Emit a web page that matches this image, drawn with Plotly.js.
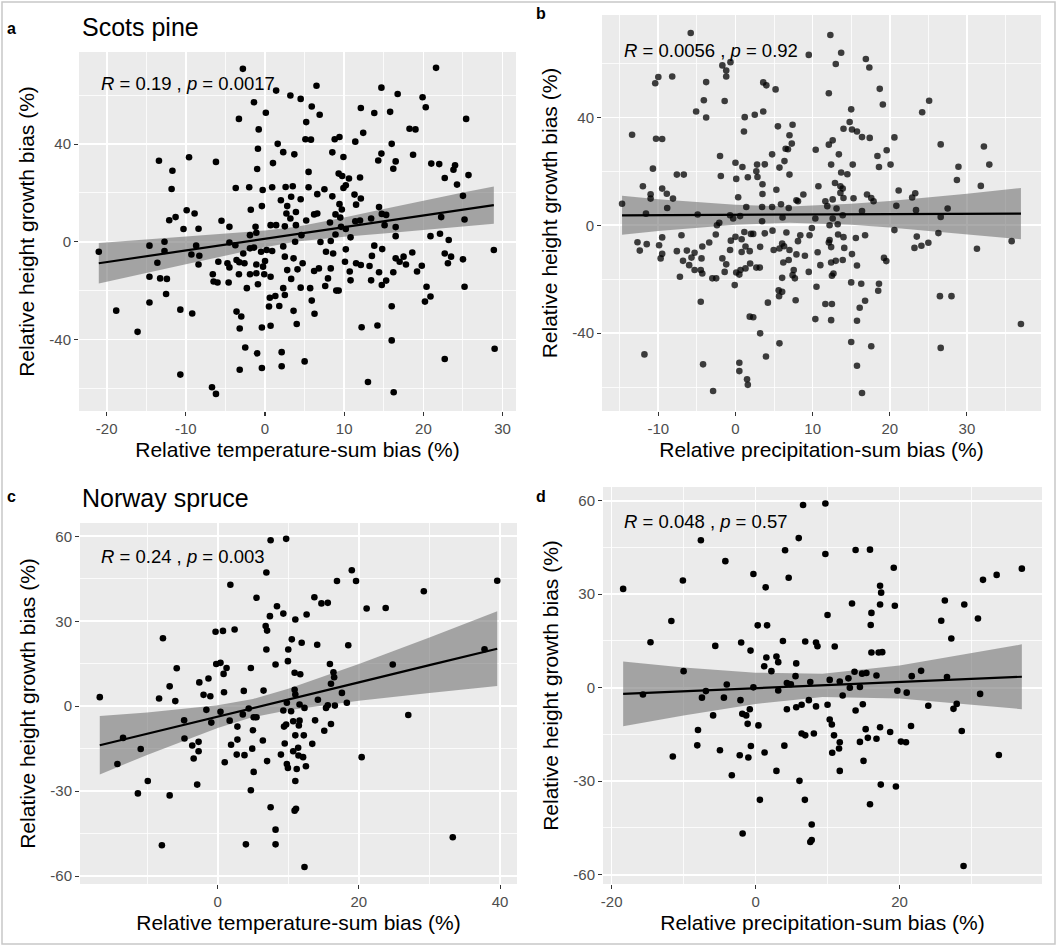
<!DOCTYPE html>
<html>
<head>
<meta charset="utf-8">
<script src="https://cdn.plot.ly/plotly-3.0.1.min.js"></script>
<style>
html,body{margin:0;padding:0;background:#fff;}
#chart{width:1057px;height:946px;}
</style>
</head>
<body>
<div id="chart"></div>
<script>
// ---------------- DATA ----------------
// (a) Scots pine: temperature-sum bias vs height growth bias
const pineTempX = [-2.8,-21.0,1.4,3.2,-1.4,0.1,-3.3,-0.8,1.6,2.3,3.7,-0.9,-13.4,-9.6,-6.2,-11.7,1.0,-1.0,-11.8,-3.7,-2.0,-0.3,0.9,2.6,3.5,3.3,2.0,-0.4,-1.8,2.8,3.9,2.7,3.2,-9.9,-8.9,-12.1,-11.3,-5.5,-10.3,-8.4,-4.5,-1.2,0.7,1.4,2.5,3.9,-1.9,-1.1,-14.6,-12.7,-12.7,-8.7,-9.3,-8.3,-4.5,-3.75,-2.75,-3.6,-1.9,-1.4,-0.5,0.2,0.9,2.3,3.8,-13.6,-8.4,-5.9,-4.75,-4.5,-3.25,-2.6,-1.1,-0.25,0.0,2.5,3.6,-14.6,-13.25,-12.4,-6.6,-6.5,-6.0,-4.6,-3.3,-1.9,-1.1,-0.9,-0.1,0.7,2.8,3.3,4.1,-2.3,2.3,-12.5,-14.6,-18.8,-10.7,-9.2,-3.6,-3.0,0.5,0.6,1.3,1.8,2.5,3.6,-16.1,-3.2,-0.4,0.7,4.0,-2.5,-1.0,2.1,-3.2,-0.4,2.1,-10.7,-6.7,-6.2,
  21.6,6.5,14.7,16.75,4.5,19.9,20.3,5.9,6.9,12.1,13.8,15.8,25.4,5.2,18.25,19.0,12.4,5.1,5.8,8.8,9.4,11.4,16.0,8.5,9.9,14.7,14.3,16.5,16.2,18.7,21.0,22.0,24.0,23.8,22.7,25.7,24.25,5.5,9.3,9.75,10.6,12.0,5.5,7.5,9.9,10.2,6.6,8.5,11.3,12.1,4.5,11.5,9.4,9.7,14.4,14.75,15.3,25.0,6.2,6.6,8.9,9.5,5.2,8.2,11.4,12.0,13.4,15.1,16.5,22.25,25.2,9.6,10.2,8.9,10.8,4.6,16.5,20.9,22.1,23.2,7.0,8.3,13.8,14.8,10.2,7.7,8.6,28.9,13.5,16.5,17.5,17.0,17.8,18.6,19.8,19.2,22.7,23.5,23.1,25.0,4.75,10.1,11.5,12.1,13.2,6.2,6.8,8.3,10.7,14.4,16.2,7.95,7.6,10.8,13.4,14.75,15.3,4.5,5.7,9.0,9.3,20.4,25.2,5.9,20.9,20.2,16.0,6.25,12.2,14.2,16.0,5.0,22.7,29.0,13.0,16.25];
const pineTempY = [70.8,-4.1,61.9,59.9,57.1,52.8,50.3,46.0,40.1,36.7,35.8,38.1,33.2,34.6,32.7,29.1,32.2,29.8,21.6,22.0,22.3,21.2,22.3,22.4,22.7,18.4,17.0,14.6,13.1,14.6,12.2,11.6,9.5,12.9,11.6,8.8,10.1,8.6,5.2,5.3,6.1,6.1,6.8,6.8,6.3,6.8,2.7,3.7,-1.6,0.0,-3.8,-1.6,-5.2,-5.7,-0.3,-1.4,-4.8,-7.5,-2.7,-2.4,-4.1,-3.4,-3.8,-1.9,0.0,-8.6,-9.3,-8.2,-8.8,-10.5,-8.4,-8.8,-9.3,-10.2,-7.9,-6.1,-6.8,-14.3,-15.0,-15.2,-13.3,-16.3,-16.7,-16.7,-13.3,-13.3,-12.9,-17.4,-13.3,-14.3,-11.6,-15.2,-11.3,-19.0,-19.0,-21.4,-24.9,-28.2,-27.8,-29.4,-28.6,-30.6,-26.5,-22.9,-22.2,-26.3,-21.8,-28.3,-36.9,-35.5,-35.1,-34.4,-33.7,-43.3,-45.7,-45.2,-52.4,-51.7,-51.0,-54.4,-59.6,-62.3,
  71.2,63.9,63.1,60.5,58.5,59.2,55.1,55.4,52.0,54.8,52.7,53.2,50.3,49.0,46.3,46.0,44.6,42.0,41.8,42.0,42.9,41.0,40.1,36.6,34.7,36.1,33.3,32.9,29.9,35.6,32.0,31.8,31.3,29.5,26.1,27.3,23.4,28.6,27.9,26.9,25.9,26.3,22.3,21.5,22.0,23.1,19.5,18.6,19.3,17.7,17.4,15.2,15.4,13.2,14.2,11.4,11.0,18.8,11.2,11.6,11.2,9.9,8.7,7.9,8.4,8.7,9.5,6.8,6.0,10.1,9.1,6.1,5.2,3.0,1.8,2.7,2.3,2.3,3.3,0.7,-0.1,0.3,-1.6,-3.0,-3.1,-4.1,-4.8,-3.4,-5.8,-6.8,-6.1,-8.2,-9.3,-4.4,-9.8,-12.2,-4.8,-6.1,-8.8,-7.2,-8.8,-8.2,-8.8,-9.5,-9.9,-12.0,-10.9,-10.9,-12.2,-12.5,-12.5,-15.0,-18.1,-15.8,-15.8,-17.7,-15.9,-18.8,-19.0,-20.0,-20.0,-18.4,-18.4,-24.1,-22.4,-24.5,-26.4,-29.5,-35.0,-34.3,-40.4,-49.0,-48.0,-43.8,-57.4,-61.6];
const pineTempFitX = [-21,-15,-10,-5,0,4,10,15,20,25,28.9];
const pineTempFit  = [-8.8,-5.9,-3.6,-1.2,1.2,3.1,6.0,8.4,10.8,13.2,15.0];
const pineTempLo   = [-17.1,-12.8,-9.2,-5.6,-2.2,0.1,2.1,3.4,4.7,6.2,7.4];
const pineTempHi   = [-0.5,1.0,2.0,3.2,4.6,6.1,9.9,13.4,16.9,20.2,22.6];

// (b) Scots pine: precipitation-sum bias vs height growth bias
const pinePrecX = [-5.8,9.5,-1.7,-1.2,-0.65,-1.2,-10.0,-10.4,-8.2,-3.8,3.6,4.0,5.2,-4.1,-1.4,-5.1,-3.8,1.2,2.5,3.6,1.1,5.5,7.4,-13.4,-10.3,-9.5,7.0,7.3,6.8,6.5,-2.0,4.75,6.35,-10.7,0.0,0.9,2.8,3.8,2.7,5.7,-7.6,-6.7,-1.9,0.1,1.6,2.85,7.0,-12.0,-9.5,-8.9,-11.0,-11.0,3.5,5.3,-8.1,0.35,3.5,8.8,7.9,8.1,-14.7,-8.85,1.4,3.45,4.75,5.9,6.9,-11.6,-4.9,-0.7,0.6,-0.3,6.1,3.45,-2.1,-2.4,9.9,9.6,-7.0,-9.5,-12.7,-12.4,-11.5,-9.9,-9.5,-9.7,-7.6,-6.3,-5.3,-5.7,-6.8,-6.0,-5.3,-7.2,-4.3,-3.4,-2.55,-0.6,0.0,0.8,1.15,2.0,2.3,3.8,4.8,6.6,8.1,8.4,-4.4,-4.5,-4.3,-1.7,-1.2,-0.7,0.8,1.3,1.85,3.2,4.95,5.7,6.05,6.3,7.0,6.2,6.9,7.9,9.0,-3.0,-2.5,-1.4,0.1,0.65,1.3,1.9,2.7,3.15,0.5,-0.1,6.05,7.55,7.4,7.7,9.5,5.6,6.05,5.65,7.8,-4.5,4.2,1.85,2.3,3.2,5.7,-11.8,3.95,-4.2,0.5,0.5,1.5,1.6,-2.9,
  12.3,13.7,13.0,16.9,17.35,12.1,18.7,19.1,25.1,24.2,15.0,14.8,14.0,15.1,15.75,16.4,17.4,20.6,12.6,12.1,10.4,13.4,18.4,19.6,26.6,32.2,12.4,15.2,18.6,20.1,28.9,32.9,13.7,14.5,28.7,31.8,10.75,12.9,13.6,13.9,13.6,14.0,15.3,11.65,12.6,11.9,13.1,17.05,17.6,17.9,21.15,20.85,22.9,23.3,23.4,27.5,16.4,13.9,12.6,10.35,12.2,13.25,26.6,20.6,13.3,14.0,15.6,16.8,23.5,26.3,12.2,12.1,12.4,14.1,23.2,24.1,25.0,31.3,35.8,10.65,15.1,11.0,12.4,13.0,13.9,15.75,19.25,19.55,12.7,12.5,10.5,15.0,16.3,18.6,18.5,16.8,16.1,11.65,12.5,10.35,12.4,15.75,26.5,28.0,37.0,15.0,17.6,26.6,15.75,16.4];
const pinePrecY = [71.3,63.2,59.3,57.4,60.5,55.2,55.0,52.7,55.2,53.1,53.0,51.9,50.4,46.4,46.1,42.2,40.0,40.1,41.0,42.2,34.8,36.7,37.3,33.6,32.1,32.0,33.4,30.3,28.2,28.4,25.7,26.3,23.8,21.0,23.2,21.6,22.5,22.6,20.0,21.4,18.8,18.8,18.3,17.2,17.8,17.9,18.8,14.5,13.6,11.7,11.5,9.9,15.2,13.2,9.9,10.4,11.6,11.4,9.3,8.9,8.0,6.4,6.8,6.8,6.8,7.8,6.4,4.3,4.0,3.7,3.4,2.5,2.9,1.5,0.9,0.0,-1.0,-3.7,-3.7,-4.5,-6.3,-9.4,-7.0,-7.4,-10.6,-12.3,-9.6,-9.4,-10.2,-12.0,-13.2,-14.8,-16.6,-19.1,-7.9,-6.4,-3.4,-5.7,-4.3,-5.2,-2.5,-3.2,-3.2,-3.0,-2.0,-2.7,-5.9,-3.7,-12.3,-16.6,-17.9,-12.3,-14.5,-9.2,-9.9,-7.9,-9.6,-8.0,-9.2,-8.6,-6.8,-7.8,-9.2,-13.8,-12.9,-10.8,-11.3,-19.7,-19.7,-17.3,-17.5,-16.6,-16.0,-14.2,-15.7,-15.7,-18.3,-22.2,-19.5,-16.6,-18.5,-19.7,-17.3,-24.1,-24.7,-26.3,-27.8,-28.4,-28.7,-33.9,-34.1,-40.1,-43.8,-47.9,-48.7,-51.6,-51.0,-54.1,-57.1,-59.2,-61.5,
  70.6,64.0,59.8,61.7,58.5,49.0,50.6,44.8,46.2,41.9,43.0,38.3,35.8,35.5,34.8,32.7,32.4,32.6,31.5,29.9,28.0,26.3,25.7,27.8,30.0,29.2,22.5,22.5,21.6,22.5,21.7,22.5,19.6,18.9,16.8,14.6,14.5,15.7,14.5,13.6,12.0,10.1,10.0,8.9,9.6,7.1,6.2,11.4,10.1,8.9,12.9,7.2,10.3,11.9,5.6,6.2,5.3,3.7,2.5,2.5,0.0,0.4,3.1,-1.8,-3.4,-4.4,-4.7,-3.7,-4.2,-2.9,-5.5,-6.4,-8.1,-8.4,-8.4,-7.6,-6.5,-8.7,-5.9,-10.0,-10.7,-14.8,-13.8,-13.2,-12.9,-14.9,-12.1,-13.3,-17.9,-18.7,-22.8,-21.2,-21.7,-21.7,-24.3,-28.0,-30.6,-29.2,-29.2,-34.8,-35.2,-35.4,-26.3,-26.3,-36.6,-43.3,-44.9,-45.5,-52.1,-62.2];
const pinePrecFitX = [-14.7,-10,0,7,15,20,30,37];
const pinePrecFit  = [3.7,3.75,3.9,3.95,4.05,4.1,4.2,4.3];
const pinePrecLo   = [-3.55,-2.15,0.2,0.95,0.15,-0.8,-3.3,-5.2];
const pinePrecHi   = [10.95,9.65,7.6,6.95,7.95,9.0,11.7,13.8];

// (c) Norway spruce: temperature-sum bias vs height growth bias
const spruceTempX = [7.5,9.7,6.9,1.8,5.5,8.4,9.3,7.4,11.0,-0.3,0.75,2.4,6.8,7.0,-7.75,10.5,6.9,10.0,8.2,9.95,-0.2,0.4,1.26,0.84,4.7,-5.8,10.9,-2.6,-1.3,-6.8,-2.0,-1.04,0.9,3.7,6.5,10.9,11.0,-16.7,-8.3,-6.0,9.8,-1.6,0.4,4.4,3.56,5.1,5.5,9.3,10.4,-4.75,-0.9,1.7,2.8,10.7,9.4,9.7,11.5,-13.4,-4.7,2.8,5.0,6.4,9.5,11.0,-10.9,-3.6,-2.7,-2.7,1.9,2.7,3.8,4.9,8.96,10.7,11.4,11.45,-3.4,-14.2,1.0,7.0,9.8,9.95,11.2,5.1,-9.9,-2.9,11.0,-11.3,-6.8,4.7,7.5,10.9,11.1,8.2,-7.9,4.0,8.2,
  19.0,16.9,19.6,39.6,29.2,13.7,14.7,15.6,21.1,23.8,12.6,11.9,14.1,18.5,15.9,24.8,16.4,16.5,11.7,16.05,37.8,17.6,14.2,18.3,11.6,12.3,15.35,15.6,16.6,27.0,11.6,13.8,16.05,15.1,12.2,13.4,12.1,12.5,20.4,33.3,12.3];
const spruceTempY = [58.6,59.1,47.2,42.9,38.3,35.3,32.7,31.8,30.6,26.3,26.6,27.1,28.3,26.7,24.0,23.6,20.0,20.0,14.7,15.9,14.9,15.3,13.5,11.4,13.5,13.4,11.8,8.4,9.8,7.0,4.0,3.5,4.9,5.4,5.5,5.8,4.1,3.2,2.7,1.8,1.2,-1.3,-2.0,-0.8,-2.9,-3.9,-3.9,-1.5,-1.8,-5.0,-5.8,-5.1,-7.2,-5.3,-7.2,-6.5,-6.8,-11.2,-11.4,-11.8,-8.5,-12.1,-13.2,-10.3,-15.1,-13.9,-12.6,-15.9,-13.6,-17.1,-17.3,-15.0,-17.1,-15.9,-14.7,-17.4,-18.5,-20.4,-19.8,-19.4,-20.4,-21.8,-22.2,-23.2,-26.4,-27.7,-26.4,-30.8,-31.5,-29.7,-35.7,-36.9,-36.2,-43.6,-49.1,-48.8,-48.8,
  48.0,44.2,44.2,44.3,40.6,38.5,36.3,36.5,34.5,34.7,32.4,22.4,21.7,21.5,14.9,14.7,12.0,10.2,11.3,7.9,20.1,4.7,2.3,1.2,0.6,-0.6,-0.6,0.3,0.2,-3.1,-5.1,-5.0,-6.3,-8.7,-10.3,-13.3,-18.0,-21.2,-18.0,-46.3,-56.8];
const spruceTempFitX = [-16.7,-10,0,5,10,20,30,39.6];
const spruceTempFit  = [-13.8,-9.7,-3.7,-0.65,2.4,8.4,14.5,20.3];
const spruceTempLo   = [-24.1,-17.2,-7.7,-3.85,-1.4,1.9,4.7,7.1];
const spruceTempHi   = [-3.5,-2.2,0.3,2.55,6.2,14.9,24.3,33.5];

// (d) Norway spruce: precipitation-sum bias vs height growth bias
const sprucePrecX = [6.6,6.0,-7.6,4.1,-4.2,-0.3,-10.1,4.6,-18.4,1.4,-11.7,0.3,1.6,-14.6,-5.6,-2.0,-0.7,3.8,6.9,1.5,2.9,3.15,5.65,1.2,2.2,-10.0,5.55,4.35,4.9,7.6,-15.65,-6.9,-7.45,-4.0,-0.3,3.15,-4.4,-2.1,7.4,-0.8,-1.85,-1.3,4.35,5.65,6.4,-5.9,-1.1,0.4,-8.0,6.4,6.9,8.1,-8.1,-0.65,4.0,-4.95,-2.2,-1.0,1.25,-11.5,-3.3,2.9,6.1,0.6,6.85,7.8,-1.8,7.8,7.6,
  9.7,9.7,13.9,15.9,19.2,17.3,17.45,13.4,17.3,19.35,10.0,16.1,16.0,26.3,29.0,25.8,30.9,27.2,31.6,33.5,37.0,8.4,8.6,11.0,16.1,17.1,17.6,13.75,14.8,15.4,16.8,12.9,11.7,10.3,13.1,14.5,12.1,19.7,21.0,21.7,23.0,26.6,31.2,10.0,8.4,13.9,14.9,24.0,27.5,27.95,10.3,10.6,10.9,11.7,11.6,10.65,14.5,15.3,15.6,16.8,17.3,18.7,20.2,20.9,21.6,28.65,15.0,11.7,17.4,19.5,15.9,33.8,28.9];
const sprucePrecY = [58.6,48.0,47.3,44.1,40.6,36.5,34.4,35.3,31.7,32.2,21.4,20.0,20.0,14.6,13.4,14.5,11.9,15.0,14.8,9.7,10.0,8.2,7.8,6.9,5.3,5.3,3.7,1.5,1.1,1.8,-2.2,-1.1,-3.2,1.0,0.1,-0.9,-3.2,-4.0,-4.0,-6.9,-8.4,-8.9,-6.9,-6.3,-5.5,-8.9,-11.6,-12.1,-13.6,-14.7,-15.3,-14.7,-18.5,-18.7,-18.6,-20.1,-21.7,-22.4,-20.8,-22.1,-28.1,-26.7,-29.9,-36.0,-36.0,-43.9,-46.8,-48.9,-49.5,
  59.1,42.9,44.2,44.3,38.5,32.7,30.5,27.0,26.7,26.3,23.3,24.0,20.1,28.0,26.7,21.5,22.2,15.8,34.6,36.2,38.2,14.5,13.3,13.2,11.3,11.3,11.4,5.1,4.5,4.7,3.9,3.0,2.0,2.5,0.0,0.2,-2.5,-1.0,-1.6,3.7,5.4,3.4,-2.0,-5.5,-6.0,-7.3,-5.3,-5.8,-6.8,-5.2,-10.2,-11.8,-15.3,-17.5,-19.5,-20.9,-17.4,-13.3,-16.1,-16.4,-12.7,-14.2,-17.3,-17.5,-12.3,-13.9,-23.5,-26.7,-31.1,-31.7,-37.4,-21.6,-57.2];
const sprucePrecFitX = [-18.4,-10,0,9.3,20,30,37];
const sprucePrecFit  = [-2.0,-1.2,-0.2,0.75,1.8,2.8,3.5];
const sprucePrecLo   = [-12.4,-8.9,-5.2,-3.0,-3.5,-5.4,-6.9];
const sprucePrecHi   = [8.4,6.5,4.8,4.5,7.1,11.0,13.9];

// Tick values and labels (ggplot-style hyphen minus)
const pineTempXTicks  = [-20,-10,0,10,20,30];
const pineTempXLabels = ['-20','-10','0','10','20','30'];
const pineTempXMinor  = [-15,-5,5,15,25];
const pinePrecXTicks  = [-10,0,10,20,30];
const pinePrecXLabels = ['-10','0','10','20','30'];
const pinePrecXMinor  = [-15,-5,5,15,25,35];
const pineYTicks      = [-40,0,40];
const pineYLabels     = ['-40','0','40'];
const pineYMinor      = [-60,-20,20,60];
const spruceXTicks    = [-20,0,20,40];
const spruceXLabels   = ['-20','0','20','40'];
const spruceXMinor    = [-10,10,30];
const spruceYTicks    = [-60,-30,0,30,60];
const spruceYLabels   = ['-60','-30','0','30','60'];
const spruceYMinor    = [-45,-15,15,45];

// Text
const panelTags   = ['a','b','c','d'];
const panelTitles = ['Scots pine','','Norway spruce',''];
const statLabels  = ['<i>R</i> = 0.19 , <i>p</i> = 0.0017','<i>R</i> = 0.0056 , <i>p</i> = 0.92','<i>R</i> = 0.24 , <i>p</i> = 0.003','<i>R</i> = 0.048 , <i>p</i> = 0.57'];
const xTitles = ['Relative temperature-sum bias (%)','Relative precipitation-sum bias (%)','Relative temperature-sum bias (%)','Relative precipitation-sum bias (%)'];
const yTitle  = 'Relative height growth bias (%)';

// ---------------- LAYOUT HELPERS ----------------
const W = 1057, H = 946;
const fx = p => p / W;
const fy = p => 1 - p / H;
const FONT = '"Liberation Sans", Arial, Helvetica, sans-serif';

const panels = [
  {x:pineTempX, y:pineTempY, fx:pineTempFitX, fit:pineTempFit, lo:pineTempLo, hi:pineTempHi,
   dom:[79,516,52,411], xr:[-23.5,31.7], yr:[-69.3,77.7],
   xt:pineTempXTicks, xl:pineTempXLabels, xm:pineTempXMinor, yt:pineYTicks, yl:pineYLabels, ym:pineYMinor, ptColor:'#000000'},
  {x:pinePrecX, y:pinePrecY, fx:pinePrecFitX, fit:pinePrecFit, lo:pinePrecLo, hi:pinePrecHi,
   dom:[602,1041,15,411], xr:[-17.3,39.6], yr:[-68.9,78.0],
   xt:pinePrecXTicks, xl:pinePrecXLabels, xm:pinePrecXMinor, yt:pineYTicks, yl:pineYLabels, ym:pineYMinor, ptColor:'rgba(0,0,0,0.75)'},
  {x:spruceTempX, y:spruceTempY, fx:spruceTempFitX, fit:spruceTempFit, lo:spruceTempLo, hi:spruceTempHi,
   dom:[80,517,523,884], xr:[-19.5,42.4], yr:[-62.8,64.7],
   xt:spruceXTicks, xl:spruceXLabels, xm:spruceXMinor, yt:spruceYTicks, yl:spruceYLabels, ym:spruceYMinor, ptColor:'#000000'},
  {x:sprucePrecX, y:sprucePrecY, fx:sprucePrecFitX, fit:sprucePrecFit, lo:sprucePrecLo, hi:sprucePrecHi,
   dom:[603,1042,487,884], xr:[-21.2,39.8], yr:[-63,64.4],
   xt:spruceXTicks, xl:spruceXLabels, xm:spruceXMinor, yt:spruceYTicks, yl:spruceYLabels, ym:spruceYMinor, ptColor:'#000000'}
];

const traces = [];
const layout = {
  width: W, height: H,
  margin: {l:0, r:0, t:0, b:0},
  paper_bgcolor: '#ffffff',
  plot_bgcolor: '#EBEBEB',
  showlegend: false,
  font: {family: FONT, color: '#000000'},
  annotations: [],
  shapes: [{type:'rect', xref:'paper', yref:'paper', x0:fx(2), x1:fx(1055), y0:fy(944), y1:fy(2),
            line:{color:'#C8C8C8', width:1.5}, fillcolor:'rgba(0,0,0,0)', layer:'above'}]
};

panels.forEach((p, i) => {
  const n = i === 0 ? '' : String(i + 1);
  const xa = 'x' + n, ya = 'y' + n;
  traces.push({
    type:'scatter', mode:'lines', xaxis:xa, yaxis:ya,
    x: p.fx.concat(p.fx.slice().reverse()),
    y: p.hi.concat(p.lo.slice().reverse()),
    fill:'toself', fillcolor:'rgba(120,120,120,0.62)', line:{width:0, color:'rgba(0,0,0,0)'},
    hoverinfo:'skip'
  });
  traces.push({
    type:'scatter', mode:'markers', xaxis:xa, yaxis:ya,
    x:p.x, y:p.y, marker:{size:6.6, color:p.ptColor, line:{width:0}}, hoverinfo:'x+y'
  });
  traces.push({
    type:'scatter', mode:'lines', xaxis:xa, yaxis:ya,
    x:p.fx, y:p.fit, line:{color:'#000000', width:2.2}, hoverinfo:'skip'
  });

  const axCommon = {
    showgrid:true, gridcolor:'#FFFFFF', gridwidth:1.7, zeroline:false, showline:false,
    ticks:'outside', ticklen:4, tickwidth:1.1, tickcolor:'#333333',
    tickfont:{family:FONT, size:15, color:'#4D4D4D'}, automargin:false, fixedrange:true
  };
  layout['xaxis' + n] = Object.assign({}, axCommon, {
    domain:[fx(p.dom[0]), fx(p.dom[1])], anchor:ya, range:p.xr,
    tickmode:'array', tickvals:p.xt, ticktext:p.xl,
    minor:{tickmode:'array', tickvals:p.xm, showgrid:true, gridcolor:'#FFFFFF', gridwidth:0.8, ticks:''},
    title:{text:xTitles[i], font:{family:FONT, size:21, color:'#000000'}, standoff:6}
  });
  layout['yaxis' + n] = Object.assign({}, axCommon, {
    domain:[fy(p.dom[3]), fy(p.dom[2])], anchor:xa, range:p.yr,
    tickmode:'array', tickvals:p.yt, ticktext:p.yl,
    minor:{tickmode:'array', tickvals:p.ym, showgrid:true, gridcolor:'#FFFFFF', gridwidth:0.8, ticks:''},
    title:{text:yTitle, font:{family:FONT, size:21, color:'#000000'}, standoff:8}
  });
});

const tagPos = [[5,28],[534,14],[5,497],[534,497]];
panelTags.forEach((t, i) => {
  layout.annotations.push({text:'<b>'+t+'</b>', xref:'paper', yref:'paper', x:fx(tagPos[i][0]), y:fy(tagPos[i][1]),
    xanchor:'left', yanchor:'middle', showarrow:false, font:{family:FONT, size:16, color:'#000000'}});
});
const titlePos = [[80,27],null,[80,498],null];
panelTitles.forEach((t, i) => {
  if (!t) return;
  layout.annotations.push({text:t, xref:'paper', yref:'paper', x:fx(titlePos[i][0]), y:fy(titlePos[i][1]),
    xanchor:'left', yanchor:'middle', showarrow:false, font:{family:FONT, size:25, color:'#000000'}});
});
const statPos = [[99,83],[622,50],[99,556],[622,521]];
statLabels.forEach((t, i) => {
  layout.annotations.push({text:t, xref:'paper', yref:'paper', x:fx(statPos[i][0]), y:fy(statPos[i][1]),
    xanchor:'left', yanchor:'middle', showarrow:false, font:{family:FONT, size:18.5, color:'#000000'}});
});

Plotly.newPlot('chart', traces, layout, {displayModeBar:false, staticPlot:true});
</script>
</body>
</html>
